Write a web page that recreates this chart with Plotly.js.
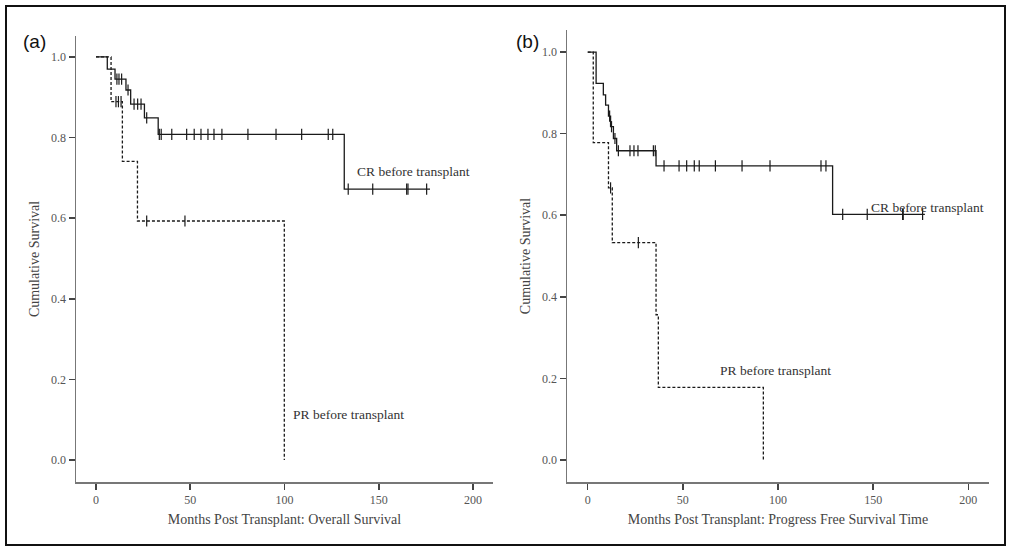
<!DOCTYPE html>
<html>
<head>
<meta charset="utf-8">
<script src="https://cdn.plot.ly/plotly-3.0.1.min.js"></script>
<style>html,body{margin:0;padding:0;background:#fff;}#chart{width:1011px;height:551px;}</style>
</head>
<body>
<div id="chart"></div>
<script>
// Panel (a): Overall survival
const crA_times = [0, 6.0, 10.1, 15.9, 18.4, 25.7, 33.0, 131.7];
const crA_surv  = [1, 0.970, 0.945, 0.918, 0.883, 0.849, 0.808, 0.672];
const crA_end   = 177.2;
const crA_censor = [11.1, 12.2, 13.6, 17.0, 20.2, 22.1, 23.9, 26.9, 33.6, 34.6, 40.2, 48.1, 52.1, 55.7, 59.4, 62.6, 66.8, 80.6, 95.5, 109.1, 123.2, 125.6, 133.8, 146.8, 164.8, 165.5, 175.4];

const prA_times = [0, 8.0, 14.0, 22.0, 99.9];
const prA_surv  = [1, 0.889, 0.741, 0.593, 0];
const prA_censor = [10.6, 11.9, 13.3, 26.9, 47.2];

// Panel (b): Progression free survival
const crB_times = [0, 4.4, 8.2, 9.4, 10.9, 12.0, 13.5, 15.2, 35.9, 128.7];
const crB_surv  = [1, 0.923, 0.895, 0.870, 0.843, 0.817, 0.788, 0.758, 0.721, 0.602];
const crB_end   = 177.2;
const crB_censor = [11.5, 12.5, 14.3, 16.1, 22.2, 24.3, 26.4, 34.5, 35.5, 40.1, 48.0, 52.0, 56.0, 58.6, 67.1, 81.1, 95.8, 122.6, 125.2, 134.0, 146.9, 165.5, 165.8, 176.0];

const prB_times = [0, 2.9, 10.9, 12.9, 35.9, 37.1, 92.3];
const prB_surv  = [1, 0.778, 0.667, 0.533, 0.356, 0.178, 0];
const prB_censor = [12.0, 26.6];

const xTicks = [0, 50, 100, 150, 200];
const yTicks = [0, 0.2, 0.4, 0.6, 0.8, 1.0];
const groupLabels = ['CR before transplant', 'PR before transplant'];

function stepAt(times, surv, t) {
  let s = surv[0];
  for (let i = 0; i < times.length; i++) { if (times[i] <= t) s = surv[i]; }
  return s;
}
function stepLine(times, surv, end, dashed, xa, ya) {
  const x = times.slice(), y = surv.slice();
  if (end !== null) { x.push(end); y.push(surv[surv.length - 1]); }
  return {x: x, y: y, type: 'scatter', mode: 'lines', line: {shape: 'hv', color: '#1a1a1a', width: 1.3, dash: dashed ? '3px,2px' : 'solid'}, xaxis: xa, yaxis: ya, hoverinfo: 'skip', showlegend: false};
}
function censorTrace(cens, times, surv, xa, ya) {
  return {x: cens, y: cens.map(t => stepAt(times, surv, t)), type: 'scatter', mode: 'markers', marker: {symbol: 'line-ns-open', size: 8, color: '#1a1a1a', line: {width: 1.2, color: '#1a1a1a'}}, xaxis: xa, yaxis: ya, hoverinfo: 'skip', showlegend: false};
}

const data = [
  stepLine(crA_times, crA_surv, crA_end, false, 'x', 'y'),
  censorTrace(crA_censor, crA_times, crA_surv, 'x', 'y'),
  stepLine(prA_times, prA_surv, null, true, 'x', 'y'),
  censorTrace(prA_censor, prA_times, prA_surv, 'x', 'y'),
  stepLine(crB_times, crB_surv, crB_end, false, 'x2', 'y2'),
  censorTrace(crB_censor, crB_times, crB_surv, 'x2', 'y2'),
  stepLine(prB_times, prB_surv, null, true, 'x2', 'y2'),
  censorTrace(prB_censor, prB_times, prB_surv, 'x2', 'y2')
];

const W = 1011, H = 551;
const serif = 'Liberation Serif, DejaVu Serif, serif';
const tickFont = {family: serif, size: 12, color: '#555'};
const titleFont = {family: serif, size: 14, color: '#444'};
const noteFont = {family: serif, size: 13.5, color: '#333'};
function xAxis(d0, d1, range, anchor, title) {
  return {domain: [d0 / W, d1 / W], range: range, anchor: anchor, showgrid: false, zeroline: false, showline: true, linecolor: '#777', linewidth: 1.5, ticks: 'outside', ticklen: 6, tickwidth: 1.5, tickcolor: '#444', tickvals: xTicks, ticktext: xTicks.map(String), tickfont: tickFont, title: {text: title, font: titleFont, standoff: 8}, automargin: false, fixedrange: true};
}
function yAxis(top, bottom, range, anchor) {
  return {domain: [(H - bottom) / H, (H - top) / H], range: range, anchor: anchor, showgrid: false, zeroline: false, showline: true, linecolor: '#777', linewidth: 1.5, ticks: 'outside', ticklen: 6, tickwidth: 1.5, tickcolor: '#444', tickvals: yTicks, ticktext: yTicks.map(v => v.toFixed(1)), tickfont: tickFont, title: {text: 'Cumulative Survival', font: titleFont, standoff: 8}, automargin: false, fixedrange: true};
}

const layout = {
  width: W, height: H,
  margin: {l: 0, r: 0, t: 0, b: 0},
  paper_bgcolor: '#fff', plot_bgcolor: '#fff',
  showlegend: false,
  xaxis: xAxis(76, 493, [-10.6, 210.6], 'y', 'Months Post Transplant: Overall Survival'),
  yaxis: yAxis(36, 482, [-0.0546, 1.052], 'x'),
  xaxis2: xAxis(567, 989, [-10.9, 210.9], 'y2', 'Months Post Transplant: Progress Free Survival Time'),
  yaxis2: yAxis(30, 482, [-0.0539, 1.054], 'x2'),
  shapes: [
    {type: 'rect', xref: 'paper', yref: 'paper', x0: 6 / W, x1: 1005 / W, y0: 1 - 545 / H, y1: 1 - 6 / H, line: {color: '#111', width: 2}}
  ],
  annotations: [
    {text: '(a)', xref: 'paper', yref: 'paper', x: 21 / W, y: 1 - 42 / H, xanchor: 'left', yanchor: 'middle', showarrow: false, font: {family: 'Liberation Sans, Arial, sans-serif', size: 19, color: '#111'}},
    {text: '(b)', xref: 'paper', yref: 'paper', x: 514 / W, y: 1 - 42 / H, xanchor: 'left', yanchor: 'middle', showarrow: false, font: {family: 'Liberation Sans, Arial, sans-serif', size: 19, color: '#111'}},
    {text: groupLabels[0], xref: 'x', yref: 'y', x: 137.4, y: 0.715, xanchor: 'left', yanchor: 'middle', showarrow: false, font: noteFont},
    {text: groupLabels[1], xref: 'x', yref: 'y', x: 103.2, y: 0.114, xanchor: 'left', yanchor: 'middle', showarrow: false, font: noteFont},
    {text: groupLabels[0], xref: 'x2', yref: 'y2', x: 147.8, y: 0.618, xanchor: 'left', yanchor: 'middle', showarrow: false, font: noteFont},
    {text: groupLabels[1], xref: 'x2', yref: 'y2', x: 68.5, y: 0.219, xanchor: 'left', yanchor: 'middle', showarrow: false, font: noteFont}
  ]
};

Plotly.newPlot('chart', data, layout, {staticPlot: true, displayModeBar: false});
</script>
</body>
</html>
